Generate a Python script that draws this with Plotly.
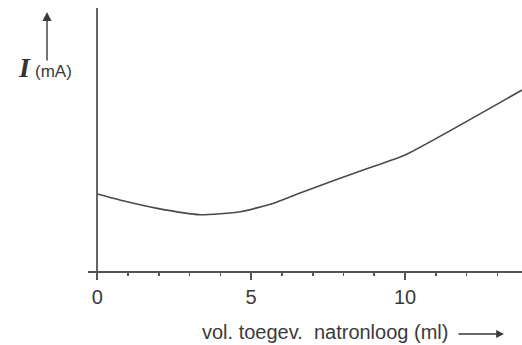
import plotly.graph_objects as go

# Data (x in ml, I in arbitrary mA units)
volume_ml = [0, 0.84, 1.95, 3.34, 4.64, 5.71, 6.59, 8.64, 10.0, 13.8]
current_mA = [2.93, 2.67, 2.38, 2.14, 2.25, 2.57, 2.97, 3.84, 4.41, 6.88]
tick_values = [0, 5, 10]
tick_labels = ["0", "5", "10"]

W, H = 522, 345
ML, MR, MT, MB = 88, 0, 8, 74

fig = go.Figure()
fig.add_trace(go.Scatter(
    x=volume_ml, y=current_mA, mode="lines",
    line=dict(color="#4a4a4a", width=1.6, shape="spline", smoothing=0.5),
    hoverinfo="skip", showlegend=False,
))

def px_to_paper(px, py):
    return (px - ML) / (W - ML - MR), (H - MB - py) / (H - MT - MB)

fig.update_layout(
    width=W, height=H,
    margin=dict(l=ML, r=MR, t=MT, b=MB),
    paper_bgcolor="white", plot_bgcolor="white",
    xaxis=dict(
        range=[-0.3, 13.8], showgrid=False,
        zeroline=True, zerolinecolor="#666666", zerolinewidth=1.6,
        showline=True, linecolor="#555555", linewidth=1.6,
        tickmode="array", tickvals=tick_values, ticktext=tick_labels,
        ticks="outside", ticklen=7, tickwidth=1.6, tickcolor="#555555",
        minor=dict(dtick=1, tick0=0, ticks="outside", ticklen=3, tickwidth=1.6, tickcolor="#555555"),
        tickfont=dict(family="Liberation Sans, Arial, sans-serif", size=20, color="#3a3a3a"),
        ticklabelstandoff=0,
        fixedrange=True,
    ),
    yaxis=dict(range=[0, 10], visible=False, fixedrange=True),
)

# y-axis arrow and label
tx, ty = px_to_paper(47, 12)
fig.add_annotation(xref="paper", yref="paper", x=tx, y=ty, ax=0, ay=50,
                   text="", showarrow=True, arrowhead=2, arrowsize=1.3,
                   arrowwidth=1.4, arrowcolor="#3a3a3a")
ix, iy = px_to_paper(25, 67)
fig.add_annotation(xref="paper", yref="paper", x=ix, y=iy, text="<b><i>I</i></b>",
                   showarrow=False, xanchor="center", yanchor="middle",
                   font=dict(family="Liberation Serif, serif", size=28, color="#333333"))
mx, my = px_to_paper(53, 71)
fig.add_annotation(xref="paper", yref="paper", x=mx, y=my, text="(mA)",
                   showarrow=False, xanchor="center", yanchor="middle",
                   font=dict(family="Liberation Sans, Arial, sans-serif", size=17, color="#3a3a3a"))

# x-axis title and arrow
lx, ly = px_to_paper(450, 332)
fig.add_annotation(xref="paper", yref="paper", x=lx, y=ly,
                   text="vol. toegev.&nbsp;&nbsp;natronloog (ml)",
                   showarrow=False, xanchor="right", yanchor="middle",
                   font=dict(family="Liberation Sans, Arial, sans-serif", size=20, color="#3a3a3a"))
ax_, ay_ = px_to_paper(504, 334)
fig.add_annotation(xref="paper", yref="paper", x=ax_, y=ay_, ax=-47, ay=0,
                   text="", showarrow=True, arrowhead=2, arrowsize=1.2,
                   arrowwidth=1.3, arrowcolor="#3a3a3a")

# remove the browser's default page margin so the figure fills the window
fig.write_html("out.html",
               config={"displayModeBar": False, "staticPlot": True},
               post_script="document.body.style.margin='0px';document.body.style.overflow='hidden';")
